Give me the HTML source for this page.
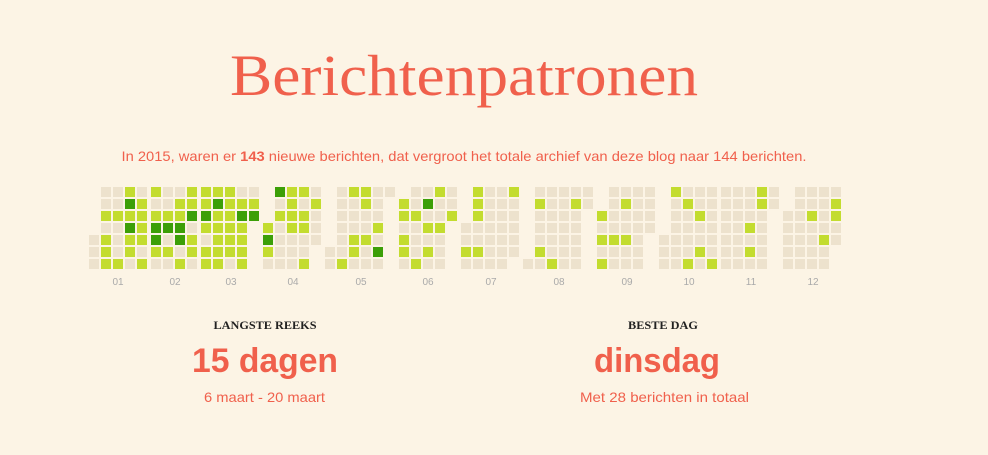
<!DOCTYPE html>
<html><head><meta charset="utf-8">
<style>
html,body{margin:0;padding:0;background:#fcf4e5;}
svg{display:block;}
</style></head>
<body>
<svg id="s" width="988" height="455" viewBox="0 0 988 455" xmlns="http://www.w3.org/2000/svg">
<rect width="988" height="455" fill="#fcf4e5"/>
<text x="464" y="95" text-anchor="middle" font-family="Liberation Serif, serif" font-size="58" fill="#f0604c" textLength="468" lengthAdjust="spacingAndGlyphs">Berichtenpatronen</text>
<text x="464" y="161" text-anchor="middle" font-family="Liberation Sans, sans-serif" font-size="14" fill="#f0604c" textLength="685" lengthAdjust="spacingAndGlyphs">In 2015, waren er <tspan font-weight="bold">143</tspan> nieuwe berichten, dat vergroot het totale archief van deze blog naar 144 berichten.</text>
<g id="cells"></g>
<g font-family="Liberation Sans, sans-serif" font-size="10" fill="#aaa" text-anchor="middle">
<text x="118" y="285">01</text><text x="175" y="285">02</text><text x="231" y="285">03</text><text x="293" y="285">04</text>
<text x="361" y="285">05</text><text x="428" y="285">06</text><text x="491" y="285">07</text><text x="559" y="285">08</text>
<text x="627" y="285">09</text><text x="689" y="285">10</text><text x="751" y="285">11</text><text x="813" y="285">12</text>
</g>
<g font-family="Liberation Serif, serif" font-weight="bold" font-size="11.5" fill="#222" text-anchor="middle">
<text x="265" y="329" textLength="103" lengthAdjust="spacingAndGlyphs">LANGSTE REEKS</text>
<text x="663" y="329" textLength="70" lengthAdjust="spacingAndGlyphs">BESTE DAG</text>
</g>
<g font-family="Liberation Sans, sans-serif" font-weight="bold" font-size="34" fill="#f0604c" text-anchor="middle">
<text x="265" y="372" textLength="146" lengthAdjust="spacingAndGlyphs">15 dagen</text>
<text x="657" y="372" textLength="126" lengthAdjust="spacingAndGlyphs">dinsdag</text>
</g>
<g font-family="Liberation Sans, sans-serif" font-size="14" fill="#f0604c" text-anchor="middle">
<text x="264.5" y="402" textLength="121" lengthAdjust="spacingAndGlyphs">6 maart - 20 maart</text>
<text x="664.5" y="402" textLength="169" lengthAdjust="spacingAndGlyphs">Met 28 berichten in totaal</text>
</g>
</svg>
<script>
var cols=[
[89,"    eee"],[101,"eelelll"],[113,"eeleeel"],[125,"ldldlle"],[137,"ellllel"],
[151,"lelddle"],[163,"eeldele"],[175,"ellddel"],[187,"lldelle"],
[201,"lldlell"],[213,"ldlllll"],[225,"lllllle"],[237,"eldllll"],[249,"eld    "],
[263,"   ldle"],[275,"deleeee"],[287,"lllleee"],[299,"lelleel"],[311,"eleee  "],
[325,"     ee"],[337,"eeeeeel"],[349,"leeelle"],[361,"lleelee"],[373,"eeelede"],[385,"e      "],
[399," llelle"],[411,"eeleeel"],[423,"edelele"],[435,"leeleee"],[447,"eel    "],
[461,"   eele"],[473,"llleele"],[485,"eeeeeee"],[497,"eeeeeee"],[509,"leeeee "],
[523,"      e"],[535,"eleeele"],[547,"eeeeeel"],[559,"eeeeeee"],[571,"eleeeee"],[583,"ee     "],
[597,"  lelel"],[609,"eeeelee"],[621,"eleelee"],[633,"eeeeeee"],[645,"eeee   "],
[659,"    eee"],[671,"leeeeee"],[683,"eleeeel"],[695,"eeleele"],[707,"eeeeeel"],
[721,"eeeeeee"],[733,"eeeeeee"],[745,"eeelele"],[757,"lleeeee"],[769,"ee     "],
[783,"  eeeee"],[795,"eeeeeee"],[807,"eeleeee"],[819,"eeeelee"],[831,"elleе  "]
];
var col={e:"#ede2cd",l:"#c3dc2f",d:"#3c9f07"};
var g=document.getElementById("cells"),ns="http://www.w3.org/2000/svg";
cols.forEach(function(c){for(var r=0;r<7;r++){var ch=c[1][r];if(ch==="е")ch="e";if(!col[ch])continue;
var e=document.createElementNS(ns,"rect");e.setAttribute("x",c[0]);e.setAttribute("y",187+r*12);
e.setAttribute("width",10);e.setAttribute("height",10);e.setAttribute("fill",col[ch]);g.appendChild(e);}});
</script>
</body></html>
